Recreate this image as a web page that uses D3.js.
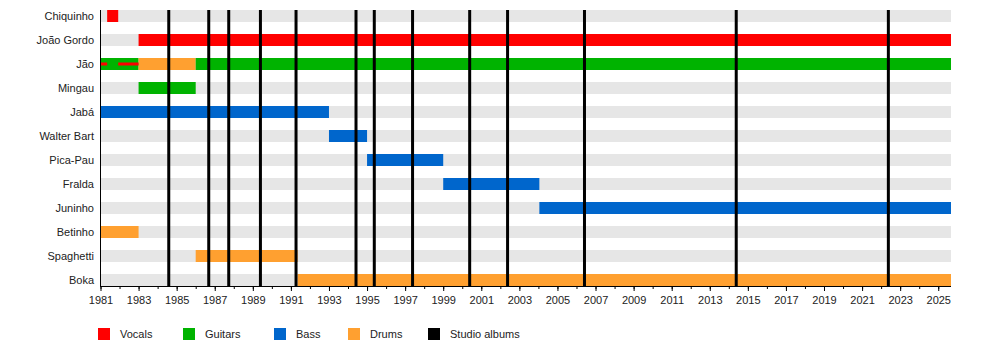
<!DOCTYPE html>
<html><head><meta charset="utf-8">
<script src="https://cdn.jsdelivr.net/npm/d3@7"></script>
<style>
html,body{margin:0;padding:0;background:#fff;}
text{font-family:"Liberation Sans",Arial,sans-serif;}
</style></head>
<body>
<svg id="chart" width="1000" height="360"></svg>
<script>
const members = ["Chiquinho","João Gordo","Jão","Mingau","Jabá","Walter Bart","Pica-Pau","Fralda","Juninho","Betinho","Spaghetti","Boka"];
const roles = ["Vocals","Guitars","Bass","Drums","Studio albums"];
const roleColors = ["#ff0000","#00b300","#0066cc","#ffa030","#000000"];
const START = 1981, END = 2025.67;
// [member, role, start, end]
const spans = [
  ["Chiquinho","Vocals",1981.35,1981.93],
  ["João Gordo","Vocals",1983.0,END],
  ["Jão","Guitars",1981.0,1983.0],
  ["Jão","Drums",1983.0,1986.0],
  ["Jão","Guitars",1986.0,END],
  ["Mingau","Guitars",1983.0,1986.0],
  ["Jabá","Bass",1981.0,1993.0],
  ["Walter Bart","Bass",1993.0,1995.0],
  ["Pica-Pau","Bass",1995.0,1999.0],
  ["Fralda","Bass",1999.0,2004.05],
  ["Juninho","Bass",2004.05,END],
  ["Betinho","Drums",1981.0,1983.0],
  ["Spaghetti","Drums",1986.0,1991.35],
  ["Boka","Drums",1991.35,END]
];
// secondary (thin) roles
const thinSpans = [
  ["Jão","Vocals",1981.0,1981.35],
  ["Jão","Vocals",1981.93,1983.0]
];
const albums = [1984.585,1986.685,1987.735,1989.40,1991.27,1994.42,1995.38,1997.39,2000.39,2002.38,2006.42,2014.39,2022.38];
const tickYears = d3.range(1981, 2026, 2);
const minorYears = d3.range(1981, 2026, 1);

const svg = d3.select("#chart");
const x = d3.scaleLinear().domain([START, END]).range([100.5, 951]);
const y = d3.scaleBand().domain(members).range([4, 292]).paddingInner(0.5).paddingOuter(0.25);
const color = d3.scaleOrdinal().domain(roles).range(roleColors);
const bh = 12;
const cy = m => y(m) + y.bandwidth()/2;

// background rows
svg.append("g").selectAll("rect").data(members).join("rect")
  .attr("x", x(START)).attr("width", x(END)-x(START))
  .attr("y", d => cy(d)-bh/2).attr("height", bh).attr("fill", "#e6e6e6");

// bars
svg.append("g").selectAll("rect").data(spans).join("rect")
  .attr("x", d => x(d[2])).attr("width", d => x(d[3])-x(d[2]))
  .attr("y", d => cy(d[0])-bh/2).attr("height", bh).attr("fill", d => color(d[1]));

svg.append("g").selectAll("rect").data(thinSpans).join("rect")
  .attr("x", d => x(d[2])).attr("width", d => x(d[3])-x(d[2]))
  .attr("y", d => cy(d[0])-1.5).attr("height", 3).attr("fill", d => color(d[1]));

// album lines
svg.append("g").selectAll("line").data(albums).join("line")
  .attr("x1", d => x(d)).attr("x2", d => x(d))
  .attr("y1", 10).attr("y2", 286)
  .attr("stroke", "#000").attr("stroke-width", 3);

// member labels
svg.append("g").selectAll("text").data(members).join("text")
  .attr("x", 94).attr("y", d => cy(d)).attr("dy", "0.35em")
  .attr("text-anchor", "end").attr("font-size", 11).attr("fill", "#222")
  .text(d => d);

// left axis line
svg.append("line").attr("x1", 100.5).attr("x2", 100.5).attr("y1", 10).attr("y2", 286.5)
  .attr("stroke", "#000").attr("stroke-width", 1);

// bottom axis
const axisG = svg.append("g").attr("transform", "translate(0,286)");
axisG.append("line").attr("x1", 100).attr("x2", 951).attr("y1", 0.5).attr("y2", 0.5).attr("stroke", "#000");
axisG.append("g").call(d3.axisBottom(x).tickValues(minorYears).tickSize(3).tickFormat(""))
  .call(g => g.select(".domain").remove());
axisG.append("g").call(d3.axisBottom(x).tickValues(tickYears).tickSize(5).tickFormat(d3.format("d")).tickPadding(5))
  .call(g => g.select(".domain").remove())
  .call(g => g.selectAll("text").attr("font-size", 11).attr("fill", "#222").attr("font-family", "Liberation Sans, Arial, sans-serif"));

// legend
const legendX = [98, 183, 274, 348, 428];
const lg = svg.append("g").selectAll("g").data(roles).join("g")
  .attr("transform", (d,i) => `translate(${legendX[i]},328)`);
lg.append("rect").attr("width", 12).attr("height", 12).attr("fill", d => color(d));
lg.append("text").attr("x", 22).attr("y", 6).attr("dy", "0.35em")
  .attr("font-size", 11).attr("fill", "#222").text(d => d);
</script>
</body></html>
